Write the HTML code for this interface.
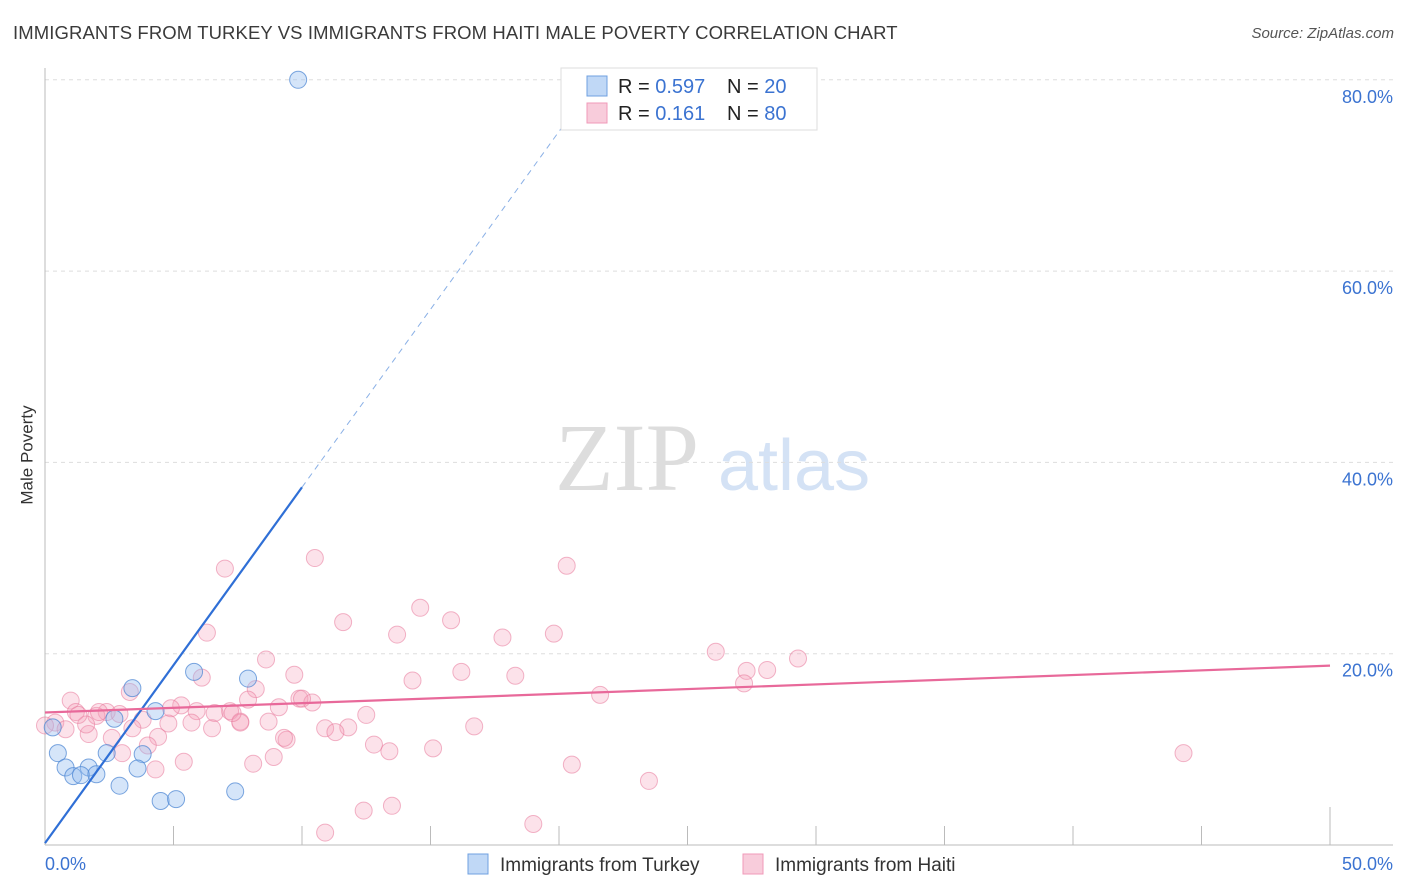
<!DOCTYPE html>
<html><head><meta charset="utf-8"><style>
body{margin:0;background:#fff;font-family:"Liberation Sans",sans-serif;}
#wrap{position:relative;width:1406px;height:892px;overflow:hidden;}
.t{position:absolute;white-space:nowrap;}
</style></head><body>
<div id="wrap">
<div class="t" style="left:13px;top:22px;font-size:18.5px;letter-spacing:0.1px;color:#3a3a3a;">IMMIGRANTS FROM TURKEY VS IMMIGRANTS FROM HAITI MALE POVERTY CORRELATION CHART</div>
<div class="t" style="right:12px;top:25px;font-size:15px;color:#555;font-style:italic;">Source: ZipAtlas.com</div>
<div class="t" style="left:-22px;top:445px;font-size:17px;color:#333;transform:rotate(-90deg);">Male Poverty</div>
<svg id="svg" width="1406" height="892" style="position:absolute;left:0;top:0"></svg>
</div>
<script>
const turkeyX=[9.85,5.8,7.9,3.4,4.3,2.7,0.3,0.5,2.4,3.8,0.8,1.7,3.6,1.1,1.4,2.0,2.9,7.4,4.5,5.1];
const turkeyY=[80.0,18.1,17.4,16.4,14.0,13.2,12.3,9.6,9.6,9.5,8.1,8.1,8.0,7.2,7.3,7.4,6.2,5.6,4.6,4.8];
const haitiX=[10.5,20.3,7.0,11.6,14.6,15.8,6.3,13.7,17.8,19.8,26.1,29.3,8.6,9.7,16.2,18.3,27.3,28.1,27.2,14.3,6.1,8.2,3.3,1.0,21.6,7.9,5.3,4.9,9.9,10.4,10.0,9.1,7.2,6.6,5.9,1.2,2.4,2.0,2.9,3.8,4.8,5.7,12.5,7.6,8.7,0.4,0.8,1.7,2.6,3.4,4.4,6.5,7.6,10.9,11.8,11.3,16.7,4.0,3.0,12.8,13.4,15.1,9.4,8.9,8.1,5.4,4.3,20.5,44.3,23.5,13.5,12.4,10.9,19.0,0.0,2.1,1.6,9.3,1.3,7.3];
const haitiY=[30.0,29.2,28.9,23.3,24.8,23.5,22.2,22.0,21.7,22.1,20.2,19.5,19.4,17.8,18.1,17.7,18.2,18.3,16.9,17.2,17.5,16.3,16.0,15.1,15.7,15.2,14.6,14.3,15.3,14.9,15.3,14.4,14.0,13.8,14.0,13.9,13.9,13.5,13.7,13.1,12.7,12.8,13.6,12.9,12.9,12.8,12.1,11.6,11.2,12.2,11.3,12.2,12.8,12.2,12.3,11.8,12.4,10.4,9.6,10.5,9.8,10.1,11.0,9.2,8.5,8.7,7.9,8.4,9.6,6.7,4.1,3.6,1.3,2.2,12.5,13.9,12.6,11.2,13.6,13.8];
const yTicks=[20,40,60,80];
const xTickVals=[5,10,15,20,25,30,35,40,45,50];
const turkeyStats=["0.597","20"], haitiStats=["0.161","80"];
const X=v=>45+v*25.7, Y=v=>845-v*9.565;
const NS="http://www.w3.org/2000/svg", svg=document.getElementById('svg');
function mk(t,a,p){const e=document.createElementNS(NS,t);for(const k in a)e.setAttribute(k,a[k]);(p||svg).appendChild(e);return e;}
let w=mk('text',{x:555,y:490,'font-size':96,fill:'#ddd','font-family':'Liberation Serif, serif'});w.textContent='ZIP';


let w2=mk('text',{x:718,y:490,'font-size':72,fill:'#d4e2f5','font-family':'Liberation Sans, sans-serif'});w2.textContent='atlas';


yTicks.forEach(v=>{
 const g=mk('line',{x1:45,x2:1393,y1:Y(v),y2:Y(v),stroke:'#ddd','stroke-dasharray':'4,4'});
 
 
 const t=mk('text',{x:1393,y:Y(v)+23,'text-anchor':'end','font-size':18,fill:'#3b73d1'});t.textContent=v.toFixed(1)+'%';
 
 
});
mk('line',{x1:45,x2:45,y1:68,y2:845,stroke:'#bbb'});
const ax=mk('line',{x1:45,x2:1393,y1:845,y2:845,stroke:'#bbb'});


xTickVals.forEach(v=>{const l=mk('line',{x1:X(v),x2:X(v),y1:v===50?807:826,y2:845,stroke:'#bbb'});
 
 });
let tx=mk('text',{x:45,y:870,'font-size':18,fill:'#3b73d1'});tx.textContent='0.0%';


tx=mk('text',{x:1393,y:870,'font-size':18,fill:'#3b73d1','text-anchor':'end'});tx.textContent='50.0%';


haitiX.forEach((x,i)=>{const c=mk('circle',{cx:X(x),cy:Y(haitiY[i]),r:8.5,fill:'rgba(244,160,186,0.3)',stroke:'rgba(232,120,155,0.55)','stroke-width':1});
 
 });
turkeyX.forEach((x,i)=>{const c=mk('circle',{cx:X(x),cy:Y(turkeyY[i]),r:8.5,fill:'rgba(150,190,240,0.4)',stroke:'rgba(70,130,210,0.7)','stroke-width':1});
 
 });
const bI=0.2, bS=3.72;
let l=mk('line',{x1:X(0),y1:Y(bI),x2:X(10),y2:Y(bI+bS*10),stroke:'#2f6fd6','stroke-width':2.2});


l=mk('line',{x1:X(10),y1:Y(bI+bS*10),x2:X(20.9),y2:Y(bI+bS*20.9),stroke:'#8ab0e6','stroke-width':1,'stroke-dasharray':'6,5'});


l=mk('line',{x1:X(0),y1:Y(13.85),x2:X(50),y2:Y(18.75),stroke:'#e8699a','stroke-width':2.2});


const lb=mk('rect',{x:561,y:68,width:256,height:62,fill:'#fff',stroke:'#ddd'});


[[turkeyStats,'rgba(150,190,240,0.6)','#6fa0e0',86],[haitiStats,'rgba(244,170,195,0.6)','#f09ab8',113]].forEach(([s,f,st,y],i)=>{
 const r=mk('rect',{x:587,y:y-10,width:20,height:20,fill:f,stroke:st});
 
 
 const t=mk('text',{x:618,y:y+7,'font-size':20,fill:'#222'});
 t.innerHTML='R = <tspan fill="#3b73d1">'+(i?' ':'')+s[0]+'</tspan><tspan x="727">N = </tspan><tspan fill="#3b73d1">'+s[1]+'</tspan>';
 
 
});
[['Immigrants from Turkey','rgba(150,190,240,0.6)','#6fa0e0',468],['Immigrants from Haiti','rgba(244,170,195,0.6)','#f09ab8',743]].forEach(([n,f,st,x],i)=>{
 const r=mk('rect',{x:x,y:854,width:20,height:20,fill:f,stroke:st});
 
 
 const t=mk('text',{x:x+32,y:871,'font-size':19,fill:'#333'});t.textContent=n;
 
 
});
</script>
</body></html>
